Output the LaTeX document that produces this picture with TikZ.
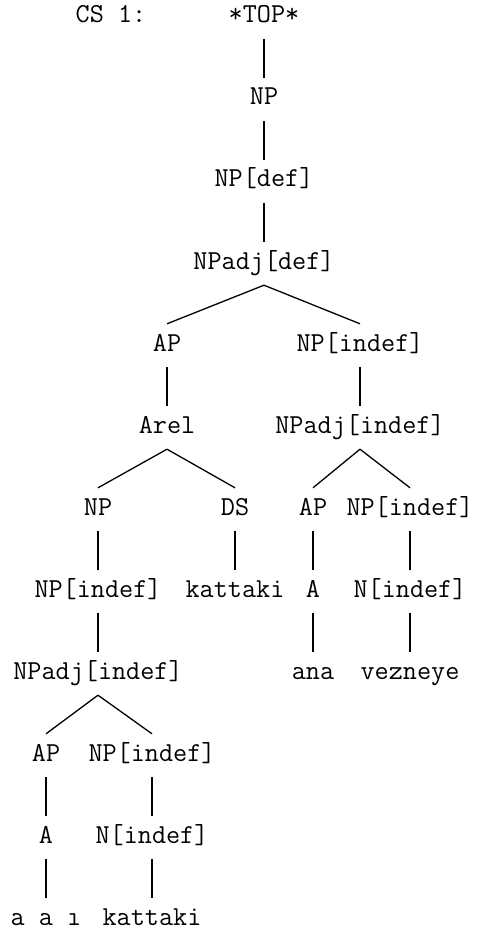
\documentclass[tikz,border=0pt]{standalone}
\usepackage{fontspec}
\usepackage{tikz}
\usetikzlibrary{positioning}

\begin{document}
\begin{tikzpicture}[x=1pt, y=-1pt,
  cat/.style={font=\ttfamily\fontsize{27.4}{32}\selectfont, anchor=base,
    inner xsep=0pt, inner ysep=10pt, text height=17pt, text depth=6pt},
  edge/.style={line width=1.3pt}]
  \useasboundingbox (0,0) rectangle (477,933);
  \def\rowh{82}
  % rows, top to bottom
  \node[cat] (cs) at (111,23) {CS 1:};
  \node[cat] (top) at (264,23) {*TOP*};
  \node[cat] (np) at (264,{23+1*\rowh}) {NP};
  \node[cat] (npdef) at (264,{23+2*\rowh}) {NP[def]};
  \node[cat] (npadjdef) at (264,{23+3*\rowh}) {NPadj[def]};
  \node[cat] (ap) at (167,{23+4*\rowh}) {AP};
  \node[cat] (npind) at (360,{23+4*\rowh}) {NP[indef]};
  \node[cat] (arel) at (167,{23+5*\rowh}) {Arel};
  \node[cat] (npadjind) at (360,{23+5*\rowh}) {NPadj[indef]};
  \node[cat] (npb) at (98,{23+6*\rowh}) {NP};
  \node[cat] (ds) at (235,{23+6*\rowh}) {DS};
  \node[cat] (apb) at (313,{23+6*\rowh}) {AP};
  \node[cat] (npindb) at (410,{23+6*\rowh}) {NP[indef]};
  \node[cat] (npindc) at (98,{23+7*\rowh}) {NP[indef]};
  \node[cat] (katta) at (235,{23+7*\rowh}) {kattaki};
  \node[cat] (aa) at (313,{23+7*\rowh}) {A};
  \node[cat] (na) at (410,{23+7*\rowh}) {N[indef]};
  \node[cat] (npadjindb) at (98,{23+8*\rowh}) {NPadj[indef]};
  \node[cat] (ana) at (313,{23+8*\rowh}) {ana};
  \node[cat] (vezneye) at (410,{23+8*\rowh}) {vezneye};
  \node[cat] (apc) at (46,{23+9*\rowh}) {AP};
  \node[cat] (npindd) at (152,{23+9*\rowh}) {NP[indef]};
  \node[cat] (ab) at (46,{23+10*\rowh}) {A};
  \node[cat] (nb) at (152,{23+10*\rowh}) {N[indef]};
  \node[cat] (aai) at (46,{23+11*\rowh}) {a a ı};
  \node[cat] (kattb) at (152,{23+11*\rowh}) {kattaki};
  % branches
  \foreach \p/\c in {top/np, np/npdef, npdef/npadjdef, npadjdef/ap, npadjdef/npind,
      ap/arel, npind/npadjind, arel/npb, arel/ds, npadjind/apb, npadjind/npindb,
      npb/npindc, ds/katta, apb/aa, npindb/na, npindc/npadjindb, aa/ana, na/vezneye,
      npadjindb/apc, npadjindb/npindd, apc/ab, npindd/nb, ab/aai, nb/kattb}
    \draw[edge] (\p.south) -- (\c.north);
\end{tikzpicture}
\end{document}
